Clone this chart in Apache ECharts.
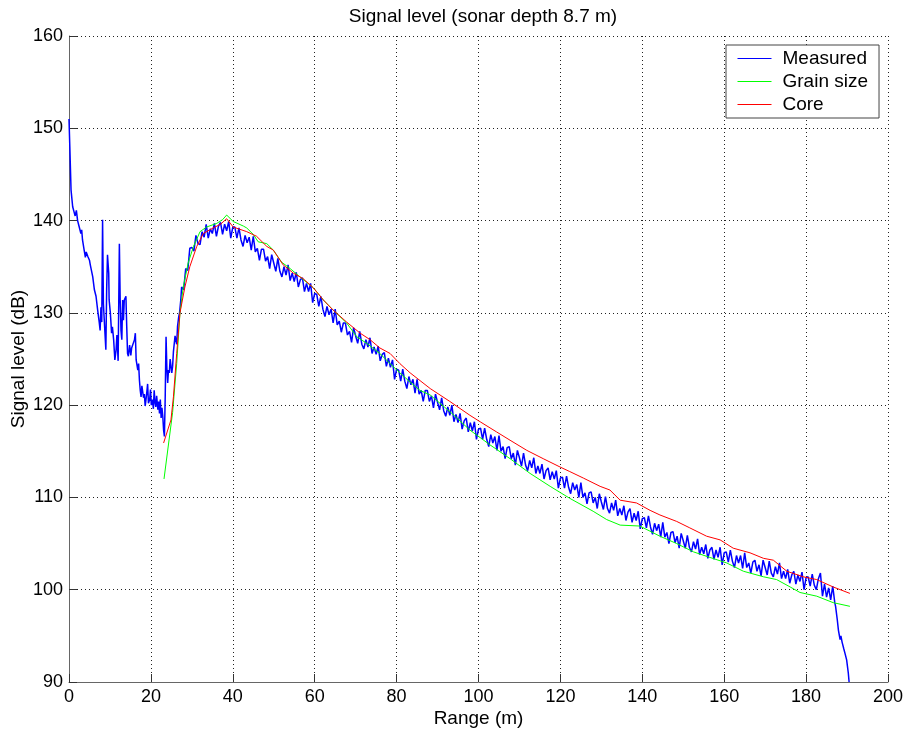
<!DOCTYPE html>
<html>
<head>
<meta charset="utf-8">
<title>Signal level</title>
<script src="https://cdn.jsdelivr.net/npm/echarts@6/dist/echarts.min.js"></script>
<style>
  html, body { margin: 0; padding: 0; background: #fff; }
  #chart { width: 904px; height: 734px; }
</style>
</head>
<body>
<div id="chart"></div>
<script>
// measured signal, first part (range m, level dB) - spiky near-field region
const measuredHead = [
  [0,151.0],[0.2,148.0],[0.5,143.3],[0.9,141.5],[1.2,141.0],[1.5,140.5],[1.8,141.1],[2.1,140.0],
  [2.5,139.3],[2.9,138.6],[3.1,139.0],[3.3,137.9],[3.7,136.8],[4.0,136.0],[4.2,136.6],[4.6,136.1],
  [5.0,135.7],[5.2,135.2],[5.4,135.0],[5.8,133.9],[6.2,132.5],[6.6,131.8],[7.0,130.3],[7.4,128.9],
  [7.6,128.1],[7.8,130.6],[8.0,129.0],[8.2,140.1],[8.4,131.0],[8.7,128.5],[9.0,126.0],[9.2,132.6],
  [9.4,136.3],[9.7,134.3],[9.8,131.4],[10.1,130.0],[10.4,127.8],[10.6,128.5],[10.9,127.1],[11.2,124.9],
  [11.5,126.0],[11.7,127.6],[12.0,124.8],[12.3,137.5],[12.5,131.4],[12.7,128.1],[12.9,127.1],[13.1,131.4],
  [13.3,129.2],[13.5,131.4],[13.9,131.8],[14.1,128.5],[14.3,125.6],[14.5,125.3],[14.8,126.5],[15.1,125.4],
  [15.3,126.2],[15.6,126.3],[16.0,127.1],[16.2,127.8],[16.4,124.9],[16.8,123.8],[17.0,124.5],[17.2,122.7],
  [17.4,121.6],[17.6,120.9],[17.8,122.1],[18.0,122.3],[18.2,120.8],[18.4,121.2],[18.6,119.9],[18.8,120.6],
  [19.0,121.4],[19.2,122.3],[19.4,120.2],[19.7,120.6],[19.9,121.7],[20.1,120.0],[20.4,120.6],[20.6,119.6],
  [20.8,121.6],[21.0,120.3],[21.2,119.8],[21.4,121.0],[21.7,119.5],[21.9,120.4],[22.1,119.1],[22.3,120.6],
  [22.5,118.6],[22.7,119.7],[22.9,118.8],[23.1,117.3],[23.3,116.6],[23.5,121.0],[23.7,127.4],[23.9,124.0],
  [24.1,122.4],[24.3,123.8],[24.5,123.5],[24.7,125.0],[24.9,124.9],[25.1,123.5],[25.3,124.2],[25.5,125.8],
  [25.7,125.6],[25.9,127.5],[26.1,127.4],[26.3,126.6],[26.5,128.5],[26.8,129.6],[27.0,130.0],[27.3,131.4]
];

// measured signal, regular part: level every 0.5 m from 27.5 m to 186.5 m
const bodyStart = 27.5;
const bodyStep = 0.5;
const measuredBody = [
  132.8,132.5,134.8,134.6,137.0,137.1,136.7,138.4,137.5,137.4,   // 27.5 - 32.0
  138.8,138.2,139.6,138.1,139.1,138.6,139.7,138.3,139.4,139.8,   // 32.5 - 37.0
  138.5,139.6,138.9,139.9,138.1,139.3,139.3,138.1,139.2,137.9,   // 37.5 - 42.0
  137.2,138.4,137.6,138.2,136.8,138.3,136.6,137.0,135.7,136.9,   // 42.5 - 47.0
  136.9,135.6,136.1,134.8,136.3,135.4,134.5,135.9,134.5,133.9,   // 47.5 - 52.0
  135.0,134.1,135.2,133.5,134.3,133.4,134.4,132.8,133.6,133.8,   // 52.5 - 57.0
  132.3,133.2,132.3,133.2,131.1,132.1,132.0,130.7,131.8,130.4,   // 57.5 - 62.0
  129.6,130.7,129.8,130.4,128.9,130.4,128.7,129.1,127.9,128.9,   // 62.5 - 67.0
  128.9,127.6,128.0,126.8,128.4,127.5,126.7,128.0,126.6,126.1,   // 67.5 - 72.0
  127.1,126.3,127.3,125.6,126.3,125.5,126.4,124.8,125.5,125.7,   // 72.5 - 77.0
  124.2,125.1,124.1,124.9,122.8,123.9,123.8,122.6,123.9,122.6,   // 77.5 - 82.0
  121.8,123.1,122.2,122.8,121.3,122.8,121.2,121.6,120.4,121.6,   // 82.5 - 87.0
  121.6,120.4,121.0,119.7,121.2,120.3,119.5,120.8,119.4,118.8,   // 87.5 - 92.0
  119.8,118.9,120.0,118.2,119.0,118.1,119.1,117.4,118.3,118.6,   // 92.5 - 97.0
  117.1,118.1,117.2,118.2,116.3,117.4,117.5,116.3,117.5,116.3,   // 97.5 - 102.0
  115.5,116.8,115.9,116.6,115.1,116.7,115.0,115.5,114.2,115.4,   // 102.5 - 107.0
  115.5,114.2,114.8,113.5,115.1,114.3,113.4,114.8,113.5,112.9,   // 107.5 - 112.0
  114.0,113.2,114.3,112.6,113.4,112.6,113.6,112.0,112.9,113.2,   // 112.5 - 117.0
  111.9,112.8,112.0,112.9,111.0,112.1,112.2,111.0,112.3,111.1,   // 117.5 - 122.0
  110.4,111.6,110.8,111.4,110.0,111.6,110.0,110.5,109.3,110.5,   // 122.5 - 127.0
  110.6,109.4,110.0,108.8,110.4,109.5,108.7,110.1,108.8,108.3,   // 127.5 - 132.0
  109.4,108.6,109.7,108.0,108.8,108.1,109.1,107.5,108.4,108.8,   // 132.5 - 137.0
  107.3,108.3,107.5,108.5,106.6,107.7,107.8,106.7,108.0,106.8,   // 137.5 - 142.0
  106.0,107.2,106.4,107.1,105.7,107.3,105.7,106.2,105.0,106.2,   // 142.5 - 147.0
  106.3,105.1,105.8,104.5,106.1,105.3,104.5,105.9,104.6,104.1,   // 147.5 - 152.0
  105.2,104.4,105.5,103.8,104.6,103.9,104.9,103.4,104.3,104.6,   // 152.5 - 157.0
  103.3,104.3,103.5,104.6,102.7,104.0,104.1,103.0,104.3,103.1,   // 157.5 - 162.0
  102.4,103.7,102.9,103.7,102.3,104.0,102.4,102.9,101.8,103.0,   // 162.5 - 167.0
  103.2,102.0,102.7,101.5,103.2,102.4,101.6,103.1,101.8,101.4,   // 167.5 - 172.0
  102.5,101.7,102.9,101.2,102.0,101.2,102.2,100.7,101.6,102.0,   // 172.5 - 177.0
  100.6,101.6,100.9,101.9,100.0,101.3,101.4,100.4,101.7,100.5,   // 177.5 - 182.0
  100.0,101.2,101.8,99.3,100.6,99.2,100.2,98.9,100.4             // 182.5 - 186.5
];

// measured signal, fall-off at the far end
const measuredTail = [
  [186.8,100.3],[187.0,98.6],[187.2,98.2],[187.6,96.8],[187.9,95.6],[188.3,94.6],[188.5,95.0],
  [188.8,94.3],[189.2,93.6],[189.5,93.1],[189.9,92.4],[190.3,91.0],[190.5,90.0]
];

// model from grain size
const grainSize = [
  [23.2,112.0],[25.3,119.2],[26.3,124.5],[27.1,130.0],[27.9,132.8],[29.1,135.4],[30.4,137.2],[32.0,138.8],
  [33.6,139.3],[36.1,139.7],[37.5,140.1],[38.5,140.6],[40.1,139.9],[42.6,139.4],[43.4,139.2],[45.0,138.5],
  [46.2,137.7],[48.3,137.5],[49.9,136.8],[51.9,135.5],[54.0,134.8],[56.4,133.9],[59.7,132.7],[62.1,131.4],
  [64.5,130.3],[67.8,128.9],[70.3,127.4],[72.7,126.7],[75.9,125.6],[78.4,124.5],[80.8,123.5],[83.3,122.5],
  [85.7,121.6],[88.2,121.1],[93.0,119.3],[97.9,117.3],[102.8,115.7],[107.7,114.2],[112.6,112.6],[117.5,111.2],
  [122.3,109.9],[128.0,108.5],[131.3,107.6],[134.6,107.0],[139.4,106.9],[144.3,105.8],[148.4,105.0],[152.5,104.1],
  [156.5,103.5],[160.6,102.9],[164.7,102.0],[169.6,101.4],[172.8,101.1],[176.1,100.3],[178.5,99.7],[182.6,99.3],
  [186.6,98.6],[190.7,98.2]
];

// model from core samples
const core = [
  [23.1,115.9],[24.9,118.4],[25.5,120.9],[26.3,125.6],[27.1,130.0],[28.3,132.8],[29.5,135.0],[31.2,137.2],
  [32.8,138.6],[35.2,139.2],[37.0,139.6],[38.5,140.2],[40.1,139.3],[43.4,138.8],[45.8,138.3],[48.3,137.2],
  [49.9,136.8],[52.3,135.2],[54.8,134.3],[57.2,133.7],[59.7,132.7],[62.1,131.4],[64.5,130.3],[67.8,129.0],
  [71.1,127.8],[73.5,127.1],[75.9,126.2],[78.4,125.6],[80.8,124.5],[83.3,123.5],[88.2,121.8],[93.0,120.4],
  [97.9,118.9],[100.4,118.2],[104.4,117.1],[107.7,116.2],[111.8,115.1],[115.8,114.2],[119.9,113.3],[122.3,112.8],
  [125.6,112.1],[129.7,111.2],[132.1,110.8],[134.6,109.7],[138.6,109.4],[141.9,108.6],[144.3,108.1],[148.4,107.4],
  [151.6,106.7],[155.7,105.8],[159.0,105.4],[162.2,104.5],[166.3,104.0],[169.6,103.4],[172.0,103.2],[175.3,102.0],
  [179.3,101.4],[182.6,101.1],[186.6,100.3],[190.7,99.6]
];

const measured = measuredHead
  .concat(measuredBody.map((v, i) => [bodyStart + i * bodyStep, v]))
  .concat(measuredTail);

const FONT = 'Liberation Sans, Arial, sans-serif';
const gridLine = { show: true, lineStyle: { color: '#222', type: [1, 3], width: 1 } };

const chart = echarts.init(document.getElementById('chart'), null, { renderer: 'canvas' });

chart.setOption({
  animation: false,
  backgroundColor: '#fff',
  textStyle: { fontFamily: FONT },
  title: {
    text: 'Signal level (sonar depth 8.7 m)',
    left: 478,
    top: 2,
    textAlign: 'center',
    textStyle: { fontSize: 19, fontWeight: 'normal', color: '#000', fontFamily: FONT }
  },
  grid: { left: 69, right: 16, top: 36, bottom: 52, outerBoundsMode: 'none', containLabel: false },
  legend: {
    orient: 'vertical',
    left: 726,
    top: 45,
    padding: [4, 11, 4, 11],
    itemWidth: 34,
    itemHeight: 14,
    itemGap: 4,
    backgroundColor: '#fff',
    borderColor: '#444',
    borderWidth: 1,
    borderRadius: 0,
    itemStyle: { opacity: 0 },
    lineStyle: { width: 1 },
    textStyle: { fontSize: 19, color: '#000', fontFamily: FONT, padding: [0, 0, 0, 6] },
    data: ['Measured', 'Grain size', 'Core']
  },
  xAxis: {
    type: 'value',
    min: 0,
    max: 200,
    interval: 20,
    name: 'Range (m)',
    nameLocation: 'middle',
    nameGap: 27,
    nameMoveOverlap: false,
    nameTextStyle: { fontSize: 19, color: '#000', fontFamily: FONT },
    axisLine: { show: true, onZero: false, lineStyle: { color: '#666', width: 1 } },
    axisTick: { show: true, inside: true, length: 8, lineStyle: { color: '#333' } },
    axisLabel: { fontSize: 18, color: '#000', margin: 6, fontFamily: FONT },
    splitLine: gridLine
  },
  yAxis: {
    type: 'value',
    min: 90,
    max: 160,
    interval: 10,
    name: 'Signal level (dB)',
    nameLocation: 'middle',
    nameGap: 41,
    nameMoveOverlap: false,
    nameRotate: 90,
    nameTextStyle: { fontSize: 19, color: '#000', fontFamily: FONT },
    axisLine: { show: true, onZero: false, lineStyle: { color: '#666', width: 1 } },
    axisTick: { show: true, inside: true, length: 8, lineStyle: { color: '#333' } },
    axisLabel: { fontSize: 18, color: '#000', margin: 6, fontFamily: FONT },
    splitLine: gridLine
  },
  series: [
    {
      name: 'Measured',
      type: 'line',
      data: measured,
      showSymbol: false,
      symbol: 'none',
      z: 2,
      lineStyle: { color: '#0000ff', width: 1.5 },
      itemStyle: { color: '#0000ff' }
    },
    {
      name: 'Grain size',
      type: 'line',
      data: grainSize,
      showSymbol: false,
      symbol: 'none',
      z: 3,
      lineStyle: { color: '#00ff00', width: 1 },
      itemStyle: { color: '#00ff00' }
    },
    {
      name: 'Core',
      type: 'line',
      data: core,
      showSymbol: false,
      symbol: 'none',
      z: 4,
      lineStyle: { color: '#ff0000', width: 1 },
      itemStyle: { color: '#ff0000' }
    }
  ]
});
</script>
</body>
</html>
